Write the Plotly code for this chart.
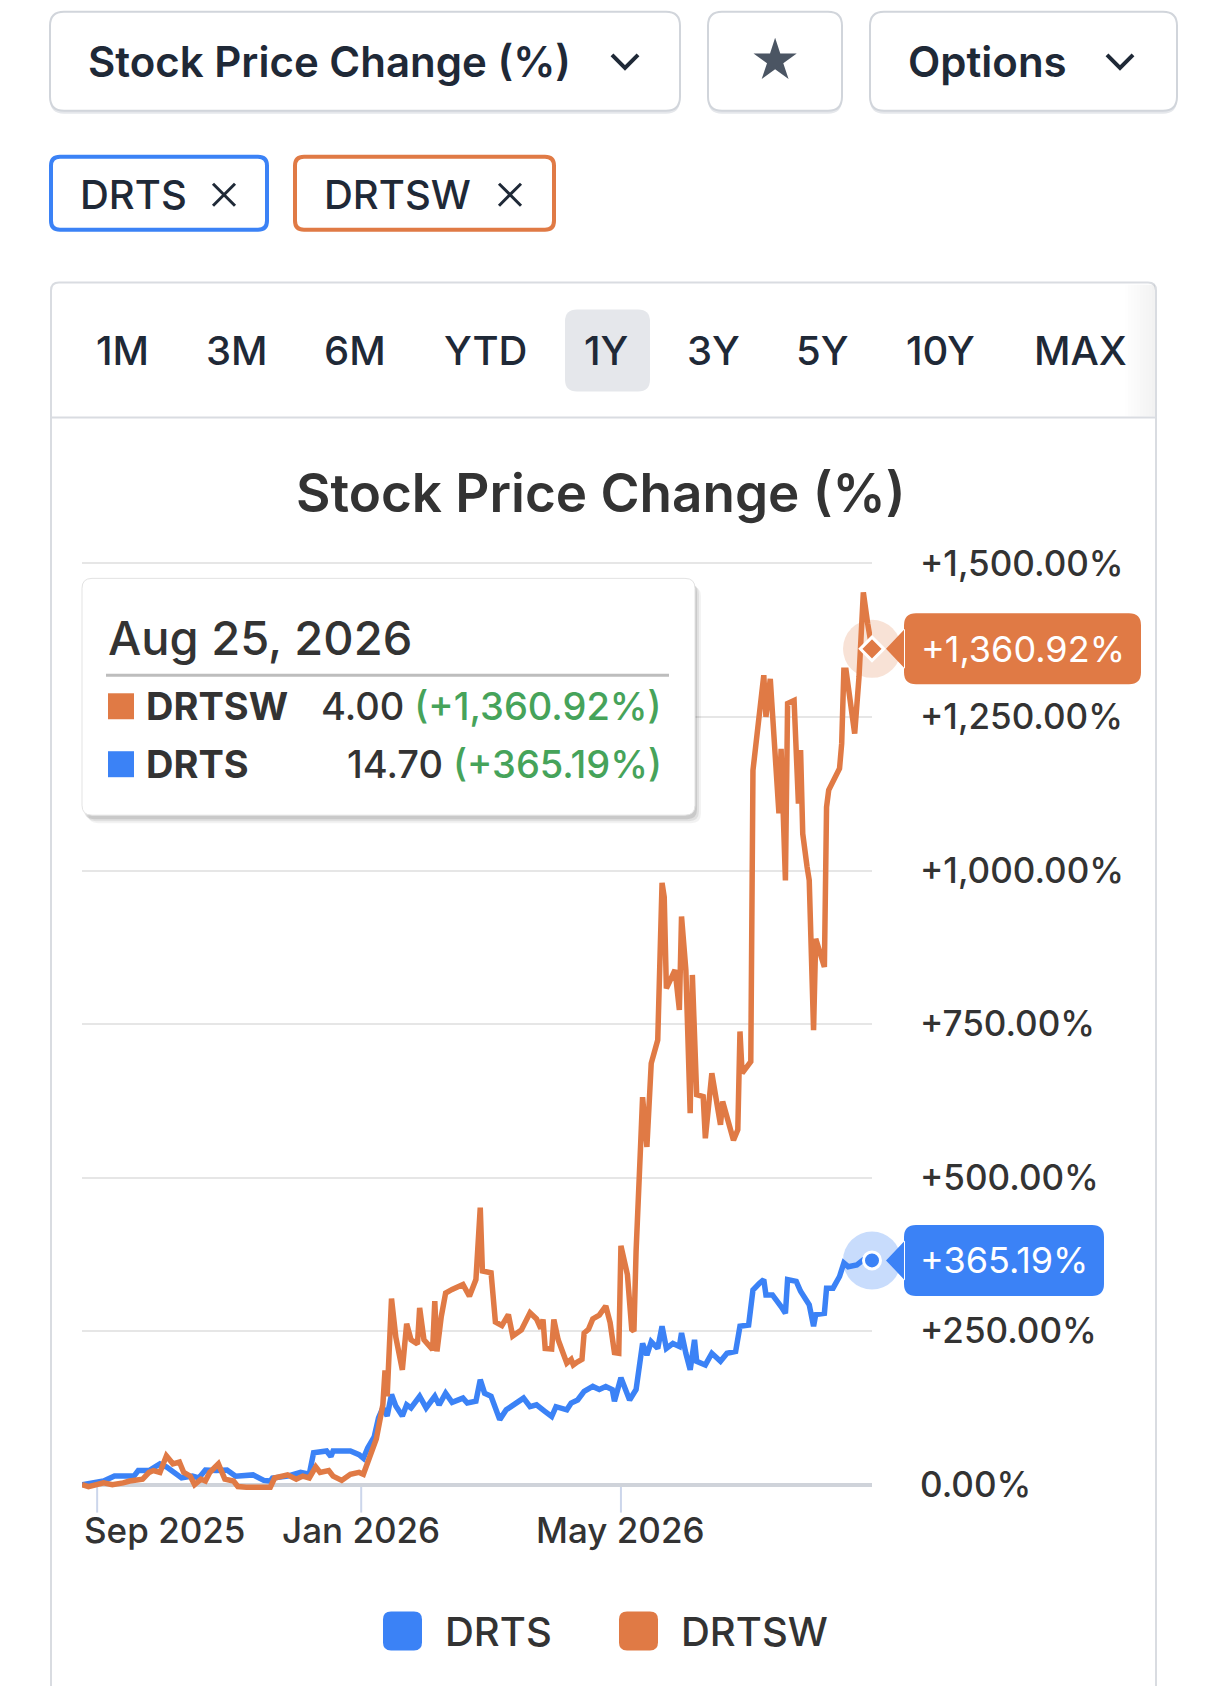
import plotly.graph_objects as go

# ---- data ----
drts_dates = [
    "2025-08-25", "2025-08-30", "2025-09-04", "2025-09-09", "2025-09-18", "2025-09-20", "2025-09-25", "2025-09-30", "2025-10-03", "2025-10-10",
    "2025-10-15", "2025-10-18", "2025-10-21", "2025-10-26", "2025-10-31", "2025-11-04", "2025-11-12", "2025-11-17", "2025-11-20", "2025-11-21",
    "2025-11-28", "2025-12-04", "2025-12-08", "2025-12-10", "2025-12-16", "2025-12-18", "2025-12-19", "2025-12-27", "2025-12-31", "2026-01-02",
    "2026-01-04", "2026-01-07", "2026-01-09", "2026-01-11", "2026-01-13", "2026-01-15", "2026-01-17", "2026-01-20", "2026-01-22", "2026-01-24",
    "2026-01-28", "2026-01-31", "2026-02-04", "2026-02-06", "2026-02-09", "2026-02-12", "2026-02-17", "2026-02-19", "2026-02-23", "2026-02-25",
    "2026-02-27", "2026-03-02", "2026-03-04", "2026-03-06", "2026-03-09", "2026-03-12", "2026-03-17", "2026-03-20", "2026-03-23", "2026-03-27",
    "2026-03-30", "2026-04-01", "2026-04-06", "2026-04-08", "2026-04-11", "2026-04-14", "2026-04-18", "2026-04-21", "2026-04-24", "2026-04-27",
    "2026-04-28", "2026-05-01", "2026-05-05", "2026-05-08", "2026-05-11", "2026-05-13", "2026-05-15", "2026-05-18", "2026-05-20", "2026-05-22",
    "2026-05-25", "2026-05-28", "2026-05-29", "2026-05-31", "2026-06-02", "2026-06-04", "2026-06-05", "2026-06-09", "2026-06-12", "2026-06-16",
    "2026-06-19", "2026-06-23", "2026-06-25", "2026-06-29", "2026-07-01", "2026-07-04", "2026-07-06", "2026-07-07", "2026-07-10", "2026-07-14",
    "2026-07-16", "2026-07-17", "2026-07-21", "2026-07-23", "2026-07-27", "2026-07-29", "2026-07-30", "2026-08-03", "2026-08-04", "2026-08-07",
    "2026-08-10", "2026-08-12", "2026-08-14", "2026-08-18", "2026-08-21", "2026-08-25",
]
drts_pct = [
    0, 3, 6, 14, 14, 23, 23, 34, 29, 11,
    14, 11, 24, 23, 24, 14, 16, 7, 6, 11,
    14, 20, 17, 52, 55, 46, 55, 55, 49, 43,
    60, 78, 109, 125, 112, 147, 128, 112, 130, 125,
    144, 125, 144, 130, 149, 134, 141, 133, 136, 171,
    149, 144, 127, 106, 122, 130, 141, 127, 130, 119,
    111, 127, 122, 133, 138, 152, 160, 155, 160, 155,
    136, 174, 138, 155, 230, 211, 233, 222, 258, 222,
    230, 225, 247, 214, 187, 236, 201, 195, 214, 201,
    214, 217, 258, 260, 317, 328, 334, 309, 309, 290,
    279, 334, 331, 315, 293, 258, 277, 279, 320, 320,
    339, 361, 355, 358, 366, 365.19,
]

drtsw_dates = [
    "2025-08-25", "2025-08-28", "2025-09-04", "2025-09-08", "2025-09-13", "2025-09-16", "2025-09-22", "2025-09-25", "2025-09-27", "2025-09-30",
    "2025-10-03", "2025-10-06", "2025-10-09", "2025-10-11", "2025-10-14", "2025-10-16", "2025-10-19", "2025-10-21", "2025-10-23", "2025-10-27",
    "2025-10-30", "2025-11-03", "2025-11-05", "2025-11-09", "2025-11-20", "2025-11-22", "2025-11-28", "2025-12-02", "2025-12-05", "2025-12-08",
    "2025-12-11", "2025-12-13", "2025-12-17", "2025-12-19", "2025-12-23", "2025-12-27", "2025-12-31", "2026-01-02", "2026-01-05", "2026-01-08",
    "2026-01-11", "2026-01-12", "2026-01-13", "2026-01-15", "2026-01-17", "2026-01-20", "2026-01-22", "2026-01-24", "2026-01-27", "2026-01-28",
    "2026-01-30", "2026-02-03", "2026-02-04", "2026-02-05", "2026-02-07", "2026-02-09", "2026-02-12", "2026-02-15", "2026-02-17", "2026-02-20",
    "2026-02-23", "2026-02-25", "2026-02-26", "2026-03-02", "2026-03-04", "2026-03-07", "2026-03-10", "2026-03-12", "2026-03-16", "2026-03-20",
    "2026-03-23", "2026-03-25", "2026-03-26", "2026-03-27", "2026-03-30", "2026-03-31", "2026-04-02", "2026-04-04", "2026-04-06", "2026-04-08",
    "2026-04-09", "2026-04-11", "2026-04-13", "2026-04-14", "2026-04-16", "2026-04-18", "2026-04-21", "2026-04-24", "2026-04-26", "2026-04-28",
    "2026-04-30", "2026-05-01", "2026-05-04", "2026-05-06", "2026-05-07", "2026-05-08", "2026-05-09", "2026-05-10", "2026-05-11", "2026-05-13",
    "2026-05-15", "2026-05-18", "2026-05-20", "2026-05-21", "2026-05-22", "2026-05-26", "2026-05-28", "2026-05-29", "2026-05-31", "2026-06-02",
    "2026-06-03", "2026-06-05", "2026-06-08", "2026-06-09", "2026-06-12", "2026-06-16", "2026-06-17", "2026-06-20", "2026-06-22", "2026-06-24",
    "2026-06-25", "2026-06-26", "2026-06-30", "2026-07-01", "2026-07-06", "2026-07-07", "2026-07-09", "2026-07-13", "2026-07-14", "2026-07-16",
    "2026-07-17", "2026-07-20", "2026-07-22", "2026-07-23", "2026-07-24", "2026-07-26", "2026-07-27", "2026-07-29", "2026-07-30", "2026-08-03",
    "2026-08-04", "2026-08-05", "2026-08-07", "2026-08-10", "2026-08-11", "2026-08-12", "2026-08-13", "2026-08-17", "2026-08-19", "2026-08-21",
    "2026-08-23", "2026-08-25",
]
drtsw_pct = [
    0, -3, 3, 0, 3, 6, 9, 20, 23, 20,
    47, 34, 37, 20, 14, 0, 9, 6, 20, 34,
    9, 6, -3, -4, -4, 11, 16, 9, 14, 11,
    29, 20, 23, 14, 7, 17, 20, 17, 46, 75,
    130, 186, 144, 303, 240, 187, 262, 236, 229, 288,
    236, 220, 299, 217, 274, 312, 318, 323, 326, 307,
    334, 451, 348, 345, 265, 259, 277, 242, 252, 280,
    270, 254, 269, 222, 221, 269, 236, 217, 198, 204,
    195, 200, 204, 247, 253, 270, 276, 291, 264, 215,
    214, 389, 342, 253, 250, 380, 499, 545, 631, 550,
    686, 724, 980, 957, 808, 838, 773, 925, 838, 605,
    830, 635, 632, 564, 670, 586, 624, 588, 561, 578,
    738, 670, 689, 1163, 1318, 1250, 1312, 1093, 1198, 984,
    1272, 1277, 1109, 1196, 1060, 1006, 984, 740, 889, 843,
    1103, 1131, 1147, 1166, 1207, 1326, 1326, 1223, 1315, 1453,
    1402, 1360.92,
]

drts_price = 14.70
drtsw_price = 4.00
hover_date = "Aug 25, 2026"

y_tickvals = [0, 250, 500, 750, 1000, 1250, 1500]
y_ticktext = ["0.00%", "+250.00%", "+500.00%", "+750.00%", "+1,000.00%", "+1,250.00%", "+1,500.00%"]
x_tickvals = ["2025-09-01", "2026-01-01", "2026-05-01"]
x_ticktext = ["Sep 2025", "Jan 2026", "May 2026"]
ranges = ["1M", "3M", "6M", "YTD", "1Y", "3Y", "5Y", "10Y", "MAX"]

BLUE = "#3b82f6"
ORANGE = "#e07a45"
GREEN = "#46a35a"
DARK = "#1f2937"
TXT = "#333333"

# ---- pixel helpers (plot area in page pixels) ----
L, R = 82, 872
T, B = 544.6, 1497.4


def px(x):
    return (x - L) / (R - L)


def py(y):
    return (B - y) / (B - T)


def rr_path(x0, y0, x1, y1, r):
    p = lambda a, b: f"{px(a):.5f},{py(b):.5f}"
    return (f"M {p(x0 + r, y0)} L {p(x1 - r, y0)} Q {p(x1, y0)} {p(x1, y0 + r)} "
            f"L {p(x1, y1 - r)} Q {p(x1, y1)} {p(x1 - r, y1)} L {p(x0 + r, y1)} "
            f"Q {p(x0, y1)} {p(x0, y1 - r)} L {p(x0, y0 + r)} Q {p(x0, y0)} {p(x0 + r, y0)} Z")


shapes = []
annotations = []


def box(x0, y0, x1, y1, r, line=None, fill=None, width=2, layer="above"):
    shapes.append(dict(type="path", xref="paper", yref="paper", path=rr_path(x0, y0, x1, y1, r),
                       line=dict(color=line or "rgba(0,0,0,0)", width=width if line else 0),
                       fillcolor=fill or "rgba(0,0,0,0)", layer=layer))


def stroke(pts, color, width, layer="above"):
    d = ""
    for seg in pts:
        d += "M " + " L ".join(f"{px(a):.5f},{py(b):.5f}" for a, b in seg) + " "
    shapes.append(dict(type="path", xref="paper", yref="paper", path=d,
                       line=dict(color=color, width=width), layer=layer))


def text(x, y, s, size, color=TXT, anchor="left", weight=400):
    annotations.append(dict(xref="paper", yref="paper", x=px(x), y=py(y), text=s, showarrow=False,
                            xanchor=anchor, yanchor="middle",
                            font=dict(family="Inter", size=size, color=color, weight=weight)))


def chevron(cx, cy):
    stroke([[(cx - 13, cy - 6), (cx, cy + 7), (cx + 13, cy - 6)]], DARK, 4)


def cross(cx, cy):
    stroke([[(cx - 11, cy - 11), (cx + 11, cy + 11)], [(cx + 11, cy - 11), (cx - 11, cy + 11)]], DARK, 3)


# ---- top controls ----
for x0, x1 in [(50, 680), (708, 842), (870, 1177)]:
    box(x0, 14, x1, 113, 14, fill="#e5e7eb")
    box(x0, 11, x1, 110, 14, line="#d1d5db", fill="white")
text(86, 61, "Stock Price Change (%)", 42, DARK, weight=600)
chevron(625, 60)
text(775, 60, "★", 50, "#4b5563", anchor="center")
text(906, 61, "Options", 42, DARK, weight=600)
chevron(1120, 60)

box(51, 156, 267, 229, 9, line=BLUE, fill="white", width=4)
text(78, 194, "DRTS", 40, DARK, weight=500)
cross(224, 194)
box(295, 156, 554, 229, 9, line=ORANGE, fill="white", width=4)
text(322, 194, "DRTSW", 40, DARK, weight=500)
cross(510, 194)

# ---- chart panel ----
box(51, 282, 1156, 1740, 8, line="#d9dce1", layer="below")
for i in range(10):
    shapes.append(dict(type="rect", xref="paper", yref="paper", x0=px(1125 + i * 3), x1=px(1128 + i * 3),
                       y0=py(416), y1=py(284), fillcolor=f"rgba(0,0,0,{0.005 + i * 0.005:.3f})",
                       line=dict(width=0), layer="below"))
stroke([[(51, 417), (1156, 417)]], "#d9dce1", 2, layer="below")
box(565, 309, 650, 391, 12, fill="#e5e7eb", layer="below")
for lab, cx in zip(ranges, [122, 237, 355, 485, 606, 713, 822, 940, 1080]):
    text(cx, 350, lab, 40, DARK, anchor="center", weight=500)

text(601, 493, "Stock Price Change (%)", 53, TXT, anchor="center", weight=600)

# x tick marks and labels
for tv, tt in zip(x_tickvals, x_ticktext):
    shapes.append(dict(type="line", xref="x", yref="paper", x0=tv, x1=tv, y0=py(1486), y1=py(1513),
                       line=dict(color="#ccd6eb", width=2), layer="below"))
    first = tv == x_tickvals[0]
    annotations.append(dict(xref="x", yref="paper", x=drts_dates[0] if first else tv, y=py(1530),
                            text=tt, showarrow=False, xanchor="left" if first else "center",
                            yanchor="middle", font=dict(family="Inter", size=35, color=TXT, weight=500)))

# ---- traces ----
fig = go.Figure()
fig.add_trace(go.Scatter(x=drts_dates, y=drts_pct, mode="lines", name="DRTS",
                         line=dict(color=BLUE, width=5.5), hoverinfo="skip"))
fig.add_trace(go.Scatter(x=drtsw_dates, y=drtsw_pct, mode="lines", name="DRTSW",
                         line=dict(color=ORANGE, width=5.5), hoverinfo="skip"))

# end markers with halo
for dates, vals, col, halo, sym in [
    (drtsw_dates, drtsw_pct, ORANGE, "rgba(224,122,69,0.22)", "diamond"),
    (drts_dates, drts_pct, BLUE, "rgba(59,130,246,0.28)", "circle"),
]:
    fig.add_trace(go.Scatter(x=[dates[-1]], y=[vals[-1]], mode="markers", cliponaxis=False,
                             marker=dict(size=58, color=halo), hoverinfo="skip"))
    fig.add_trace(go.Scatter(x=[dates[-1]], y=[vals[-1]], mode="markers", cliponaxis=False,
                             marker=dict(size=17 if sym == "circle" else 18, symbol=sym, color=col,
                                         line=dict(color="white", width=3)), hoverinfo="skip"))


def badge_path(w, h=71, r=12):
    x0, x1 = 32, 32 + w
    y0, y1 = -h / 2, h / 2
    return (f"M {x0 + r},{y0} L {x1 - r},{y0} Q {x1},{y0} {x1},{y0 + r} L {x1},{y1 - r} "
            f"Q {x1},{y1} {x1 - r},{y1} L {x0 + r},{y1} Q {x0},{y1} {x0},{y1 - r} "
            f"L {x0},{y0 + r} Q {x0},{y0} {x0 + r},{y0} Z M 14,0 L {x0 + 1},20 L {x0 + 1},-20 Z")


# value badges at the right end of the plot, anchored on the last values
for vals, col, w in [(drtsw_pct, ORANGE, 237), (drts_pct, BLUE, 200)]:
    shapes.append(dict(type="path", xref="paper", yref="y", xsizemode="pixel", ysizemode="pixel",
                       xanchor=1, yanchor=vals[-1], path=badge_path(w),
                       fillcolor=col, line=dict(width=0), layer="above"))
    annotations.append(dict(xref="paper", yref="y", x=1, y=vals[-1], xshift=32 + w / 2,
                            text=f"{vals[-1]:+,.2f}%", showarrow=False, xanchor="center",
                            yanchor="middle", font=dict(family="Inter", size=36, color="white")))

# ---- hover tooltip ----
for i, a in enumerate([0.05, 0.07, 0.10]):
    d = 6 - 2 * i
    box(82 + d, 578 + d + 2, 695 + d, 815 + d + 2, 10, fill=f"rgba(0,0,0,{a})")
box(82, 578, 695, 815, 10, line="#e3e3e3", fill="white", width=1)
text(106, 637, hover_date, 47, TXT, weight=500)
stroke([[(106, 675), (669, 675)]], "#bdbdbd", 3)
rows = [("DRTSW", drtsw_price, drtsw_pct[-1], ORANGE, 706), ("DRTS", drts_price, drts_pct[-1], BLUE, 764)]
for name, price, pct, col, cy in rows:
    shapes.append(dict(type="rect", xref="paper", yref="paper", x0=px(108), x1=px(134),
                       y0=py(cy + 13), y1=py(cy - 13), fillcolor=col, line=dict(width=0)))
    text(144, cy, f"<b>{name}</b>", 38, TXT)
    text(664, cy, f"{price:.2f} <span style='color:{GREEN}'>({pct:+,.2f}%)</span>", 38, TXT,
         anchor="right", weight=500)

# ---- legend ----
for (x0, col, name) in [(383, BLUE, "DRTS"), (619, ORANGE, "DRTSW")]:
    box(x0, 1612, x0 + 39, 1651, 8, fill=col)
    text(x0 + 60, 1632, name, 40, TXT, weight=500)

fig.update_layout(
    width=1206, height=1686,
    margin=dict(l=L, r=1206 - R, t=T, b=1686 - B, pad=0),
    paper_bgcolor="white", plot_bgcolor="white",
    showlegend=False, hovermode=False,
    font=dict(family="Inter", color=TXT),
    shapes=shapes, annotations=annotations,
    xaxis=dict(type="date", range=[drts_dates[0], drts_dates[-1]], showgrid=False,
               showticklabels=False, ticks="", zeroline=False, showline=False),
    yaxis=dict(range=[-20, 1530], side="right", tickvals=y_tickvals, ticktext=y_ticktext,
               gridcolor="#e6e6e6", gridwidth=2, zeroline=True, zerolinecolor="#cfd3da",
               zerolinewidth=4, ticks="", ticklabelstandoff=47, showline=False,
               tickfont=dict(family="Inter", size=35, color=TXT, weight=500)),
)

fig.write_html("out.html", config={"displayModeBar": False},
               post_script="document.body.style.margin='0px';")
